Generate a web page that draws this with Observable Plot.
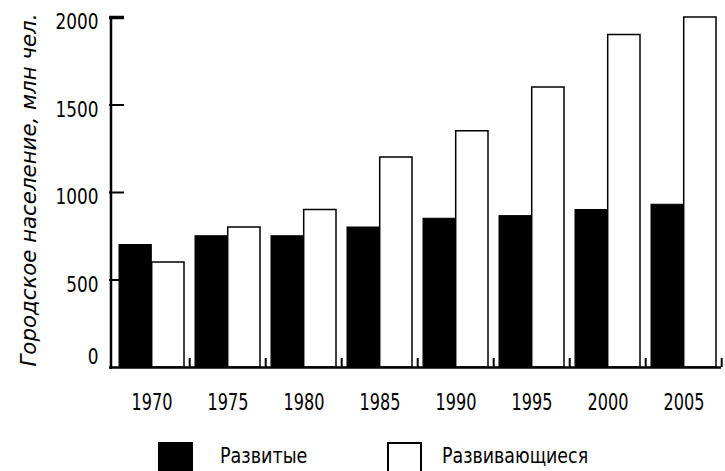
<!DOCTYPE html>
<html><head><meta charset="utf-8">
<script src="https://cdn.jsdelivr.net/npm/d3@7"></script>
<script src="https://cdn.jsdelivr.net/npm/@observablehq/plot@0.6"></script>
<style>
body{margin:0;background:#fff;font-family:"DejaVu Sans",sans-serif;}
#wrap{position:relative;width:725px;height:471px;overflow:hidden;}
#ytitle{position:absolute;left:29px;top:190px;transform:translate(-50%,-50%) rotate(-90deg);white-space:nowrap;font-family:"DejaVu Sans",sans-serif;font-style:italic;font-size:21px;line-height:1;color:#000;}
#legend{position:absolute;left:0;top:420px;width:725px;height:51px;}
.sw{position:absolute;top:22px;width:35px;height:35px;box-sizing:border-box;border:2px solid #000;}
.lb{position:absolute;top:22px;font-size:21px;line-height:28px;color:#000;white-space:nowrap;transform-origin:0 50%;}
</style></head><body>
<div id="wrap">
<div id="chart"></div>
<div id="ytitle"></div>
<div id="legend"></div>
</div>
<script>
const years = ["1970","1975","1980","1985","1990","1995","2000","2005"];
const developed = [700,750,750,800,850,865,900,930];
const developing = [600,800,900,1200,1350,1600,1900,2000];
const seriesNames = ["Развитые","Развивающиеся"];
const seriesFills = ["#000","#fff"];
const yTicks = [500,1000,1500,2000];
const yTitle = "Городское население, млн чел.";

const rows = [];
years.forEach((y,i)=>{
  rows.push({year:y, series:seriesNames[0], value:developed[i]});
  rows.push({year:y, series:seriesNames[1], value:developing[i]});
});

const W = 725, H = 420, mL = 115, mR = 6, mT = 17, mB = 53;
const pad = 0.15;
const step = (W - mL - mR) / (years.length - pad);
const bw = step * (1 - pad);
const plotH = H - mT - mB;
const plotW = W - mL - mR;
const font = '"DejaVu Sans",sans-serif';

const chart = Plot.plot({
  width: W, height: H,
  marginLeft: mL, marginRight: mR, marginTop: mT, marginBottom: mB,
  style: {fontFamily: font, background: "#fff", color: "#000"},
  x: {domain: years, paddingInner: pad, paddingOuter: 0, label: null},
  y: {domain: [0, 2000], label: null},
  marks: [
    Plot.barY(rows.filter(d=>d.series===seriesNames[0]), {x:"year", y:"value", fill: seriesFills[0], stroke:"#000", strokeWidth:1, insetRight: bw/2}),
    Plot.barY(rows.filter(d=>d.series===seriesNames[1]), {x:"year", y:"value", fill: seriesFills[1], stroke:"#000", strokeWidth:1.5, insetLeft: bw/2}),
    Plot.ruleX(years, {x: d=>d, dx: bw/2 + 5, insetTop: plotH - 9, strokeWidth: 2}),
    Plot.ruleY(yTicks, {y: d=>d, insetLeft: -6, insetRight: plotW - 9, strokeWidth: d=>d===2000?3.5:2}),
    Plot.frame({anchor: "left", strokeWidth: 2.5, dx: -4.5}),
    Plot.ruleY([0], {insetLeft: -6, insetRight: -2, strokeWidth: 2.5}),
    Plot.axisY(yTicks, {tickSize: 0, tickPadding: 17, fontSize: 21, dy: 5, tickFormat: d=>String(d)}),
    Plot.axisY([0], {tickSize: 0, tickPadding: 17, fontSize: 21, dy: -10, tickFormat: d=>String(d)}),
    Plot.axisX({tickSize: 0, tickPadding: 26, fontSize: 23})
  ]
});
document.getElementById("chart").appendChild(chart);

// condense glyphs horizontally to mimic the narrow typeface of the reference
function condense(texts, sx) {
  texts.forEach(t => {
    const tr = t.getAttribute("transform");
    if (tr) t.setAttribute("transform", tr + ` scale(${sx},1)`);
    else {
      const x = +t.getAttribute("x") || 0;
      t.removeAttribute("x");
      t.setAttribute("transform", `translate(${x},0) scale(${sx},1)`);
    }
  });
}
const xl = Array.from(chart.querySelectorAll('g[aria-label="x-axis tick label"] text'));
const ylAll = Array.from(chart.querySelectorAll('g[aria-label="y-axis tick label"] text'));
const yl4 = ylAll.filter(t => t.textContent.length === 4);
if (xl.length) {
  const w = xl[0].getBBox().width;
  condense(xl, w > 10 ? 41 / w : 0.85);
}
if (ylAll.length) {
  const w = yl4.length ? yl4[0].getBBox().width : 0;
  condense(ylAll, w > 10 ? 43 / w : 0.85);
}

const yt = document.getElementById("ytitle");
yt.textContent = yTitle;
yt.style.fontSize = (21 * 353 / yt.offsetWidth) + "px";

const legend = document.getElementById("legend");
const legendPos = [{sw:158, lb:220, w:87},{sw:387, lb:442, w:146}];
seriesNames.forEach((s,i)=>{
  const sw = document.createElement("div");
  sw.className = "sw"; sw.style.left = legendPos[i].sw + "px"; sw.style.background = seriesFills[i];
  legend.appendChild(sw);
  const lb = document.createElement("div");
  lb.className = "lb"; lb.style.left = legendPos[i].lb + "px"; lb.textContent = s;
  legend.appendChild(lb);
  lb.style.transform = `scale(${legendPos[i].w / lb.offsetWidth},1)`;
});
</script>
</body></html>
